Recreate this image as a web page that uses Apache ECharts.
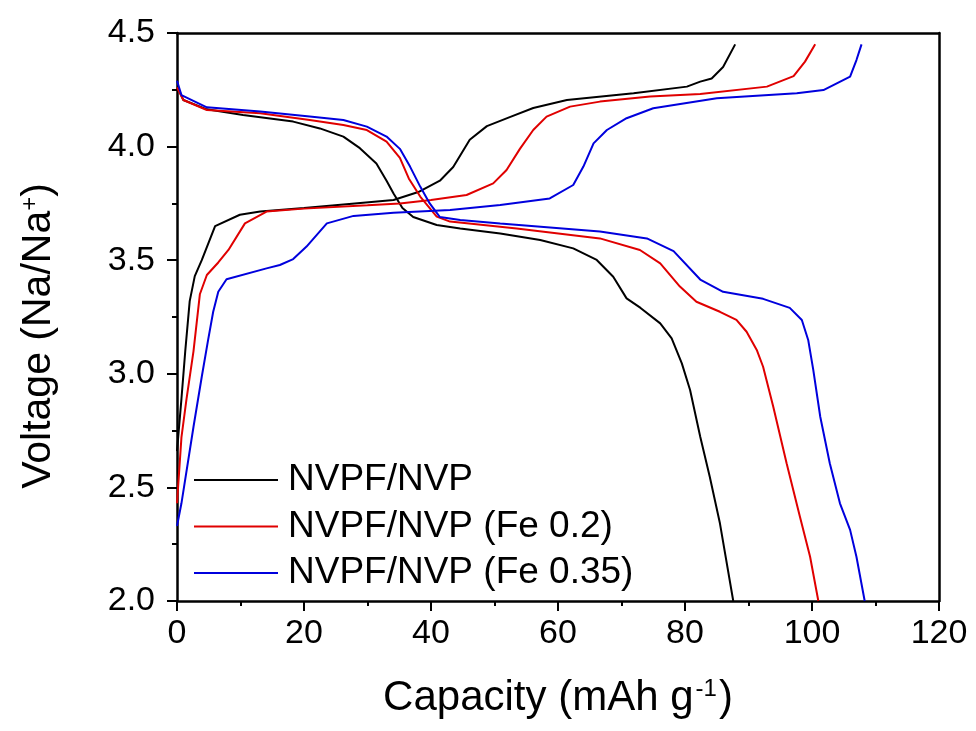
<!DOCTYPE html>
<html>
<head>
<meta charset="utf-8">
<script src="https://cdn.jsdelivr.net/npm/echarts@6/dist/echarts.min.js"></script>
<style>html,body{margin:0;padding:0;background:#fff}#c{width:976px;height:731px}</style>
</head>
<body>
<div id="c"></div>
<script>
const seriesNames = ['NVPF/NVP', 'NVPF/NVP (Fe 0.2)', 'NVPF/NVP (Fe 0.35)'];
const xTicks = [0, 20, 40, 60, 80, 100, 120];
const yTicks = [2.0, 2.5, 3.0, 3.5, 4.0, 4.5];

// [capacity (mAh/g), voltage (V)]
const blackCharge = [[0,2.66],[0.7,2.89],[1.3,3.1],[2.0,3.32],[2.8,3.43],[3.9,3.5],[6.0,3.65],[9.9,3.70],[13.1,3.714],[20,3.73],[28,3.75],[34.1,3.765],[38,3.8],[41.4,3.85],[43.5,3.91],[46.1,4.03],[48.8,4.09],[52.4,4.13],[56.1,4.17],[61.4,4.205],[71.9,4.235],[80.3,4.264],[82.4,4.286],[84.2,4.30],[86.0,4.35],[87.9,4.45]];
const blackDischarge = [[0,4.26],[0.3,4.25],[1.0,4.205],[4.7,4.164],[10.4,4.139],[18.3,4.11],[22.5,4.08],[26.2,4.044],[28.8,3.993],[31.4,3.926],[33,3.85],[34.1,3.794],[35.5,3.73],[37.2,3.69],[40.9,3.655],[44.6,3.64],[50.9,3.618],[57.2,3.589],[62.4,3.552],[66.1,3.501],[68.7,3.427],[70.8,3.332],[73,3.29],[76.1,3.222],[77.9,3.156],[79.5,3.046],[80.8,2.929],[82.4,2.723],[83.9,2.547],[85.5,2.342],[87.6,2.0]];
const redCharge = [[0,2.43],[0.7,2.72],[1.5,2.89],[2.6,3.1],[3.6,3.35],[4.7,3.435],[6.5,3.49],[8.1,3.545],[10.7,3.662],[14.1,3.714],[20,3.727],[30,3.742],[35.1,3.75],[40,3.765],[45.6,3.787],[49.8,3.838],[51.9,3.897],[54,3.99],[56.1,4.073],[58.2,4.132],[61.9,4.176],[66.6,4.198],[74.5,4.22],[82.4,4.232],[92.9,4.264],[97.1,4.31],[98.9,4.374],[100.5,4.45]];
const redDischarge = [[0,4.26],[1.0,4.205],[4.7,4.161],[13.1,4.147],[20.9,4.117],[26.2,4.095],[29.9,4.073],[33.0,4.022],[35.1,3.95],[36.5,3.86],[38.3,3.78],[40.9,3.692],[43,3.67],[53.5,3.64],[66.6,3.596],[72.9,3.545],[76.1,3.486],[79.2,3.384],[81.8,3.317],[85.5,3.273],[88.1,3.237],[89.7,3.185],[91.3,3.105],[92.3,3.031],[93.9,2.855],[96.0,2.606],[98.1,2.371],[99.7,2.195],[101.0,2.0]];
const blueCharge = [[0,2.33],[0.7,2.43],[2.6,2.767],[3.9,2.987],[4.9,3.149],[5.7,3.273],[6.5,3.361],[7.8,3.416],[14.1,3.464],[16.2,3.479],[18.3,3.505],[20.4,3.56],[23.6,3.662],[27.8,3.695],[34.1,3.709],[43,3.721],[50.9,3.743],[58.7,3.772],[62.4,3.831],[64.0,3.912],[65.6,4.014],[67.7,4.073],[70.8,4.125],[75,4.169],[85,4.213],[97.6,4.235],[101.8,4.249],[106,4.308],[107,4.381],[107.8,4.45]];
const blueDischarge = [[0,4.29],[0.7,4.227],[4.7,4.173],[13.1,4.154],[20.9,4.132],[26.2,4.117],[29.9,4.088],[33,4.044],[35.1,3.99],[36.7,3.912],[38.3,3.824],[39.8,3.75],[41.4,3.69],[44.6,3.677],[50.9,3.662],[66.6,3.626],[74,3.596],[78.2,3.54],[82.4,3.415],[86,3.361],[92.3,3.33],[96.5,3.29],[98.4,3.237],[99.4,3.149],[100.2,3.017],[101.3,2.811],[102.8,2.606],[104.4,2.43],[106,2.313],[107,2.195],[108.3,2.0]];

const colors = ['#000000', '#e00000', '#0000dd'];
const FONT = 'Liberation Sans, Arial, sans-serif';

function mkSeries(name, data, color) {
  return {
    name: name, type: 'line', data: data, showSymbol: false, symbol: 'none',
    lineStyle: { color: color, width: 2 }, itemStyle: { color: color },
    animation: false, z: 3
  };
}

const chart = echarts.init(document.getElementById('c'), null, { renderer: 'canvas' });
chart.setOption({
  backgroundColor: '#ffffff',
  animation: false,
  grid: { left: 177, right: 37, top: 33, bottom: 130 },
  legend: {
    orient: 'vertical', left: 194, top: 461, padding: 0,
    itemWidth: 84, itemHeight: 14, itemGap: 8.5,
    icon: 'path://M0,0L84,0L84,2L0,2Z',
    textStyle: { fontFamily: FONT, fontSize: 37, color: '#000', lineHeight: 38, padding: [0,0,0,5] },
    data: seriesNames
  },
  xAxis: [{
    type: 'value', min: 0, max: 120, interval: 20,
    name: '{t|Capacity (mAh g}{s|-1}{t|)}', nameLocation: 'middle', nameGap: 76,
    nameTextStyle: { rich: { t: { fontFamily: FONT, fontSize: 42, color: '#000' }, s: { fontFamily: FONT, fontSize: 24, color: '#000', verticalAlign: 'top', padding: [0,2,16,2] } } },
    axisLine: { show: true, onZero: false, lineStyle: { color: '#000', width: 2.5 } },
    axisTick: { show: true, inside: false, length: 10, lineStyle: { color: '#000', width: 2 } },
    minorTick: { show: true, splitNumber: 2, length: 5, lineStyle: { color: '#000', width: 2 } },
    axisLabel: { fontFamily: FONT, fontSize: 34, color: '#000', margin: 16, formatter: v => xTicks.includes(v) ? String(v) : '' },
    splitLine: { show: false }
  }, {
    type: 'value', position: 'top', min: 0, max: 120,
    axisLine: { show: true, onZero: false, lineStyle: { color: '#000', width: 2.5 } },
    axisTick: { show: false }, axisLabel: { show: false }, splitLine: { show: false }
  }],
  yAxis: [{
    type: 'value', min: 2, max: 4.5, interval: 0.5,
    name: '{t|Voltage (Na/Na}{s|+}{t|)}', nameLocation: 'middle', nameGap: 118, nameRotate: 90,
    nameTextStyle: { padding: [0,0,0,-38], rich: { t: { fontFamily: FONT, fontSize: 41, color: '#000' }, s: { fontFamily: FONT, fontSize: 24, color: '#000', verticalAlign: 'top', padding: [0,0,16,0] } } },
    axisLine: { show: true, onZero: false, lineStyle: { color: '#000', width: 2.5 } },
    axisTick: { show: true, inside: false, length: 10, lineStyle: { color: '#000', width: 2 } },
    minorTick: { show: true, splitNumber: 2, length: 5, lineStyle: { color: '#000', width: 2 } },
    axisLabel: { fontFamily: FONT, fontSize: 34, color: '#000', margin: 22, formatter: v => yTicks.some(t => Math.abs(t - v) < 1e-9) ? v.toFixed(1) : '' },
    splitLine: { show: false }
  }, {
    type: 'value', position: 'right', min: 2, max: 4.5,
    axisLine: { show: true, onZero: false, lineStyle: { color: '#000', width: 2.5 } },
    axisTick: { show: false }, axisLabel: { show: false }, splitLine: { show: false }
  }],
  series: [
    mkSeries(seriesNames[0], blackCharge, colors[0]),
    mkSeries(seriesNames[0], blackDischarge, colors[0]),
    mkSeries(seriesNames[1], redCharge, colors[1]),
    mkSeries(seriesNames[1], redDischarge, colors[1]),
    mkSeries(seriesNames[2], blueCharge, colors[2]),
    mkSeries(seriesNames[2], blueDischarge, colors[2])
  ]
});
</script>
</body>
</html>
